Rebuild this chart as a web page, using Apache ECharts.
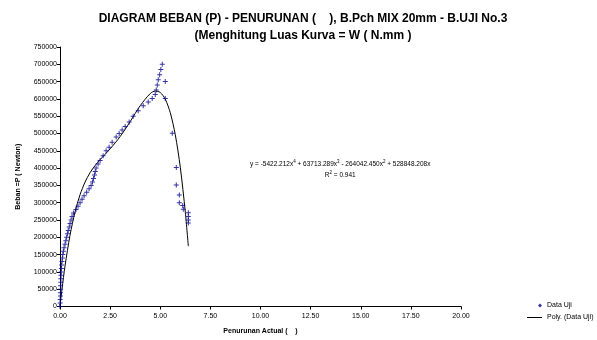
<!DOCTYPE html>
<html><head><meta charset="utf-8">
<script src="https://cdn.jsdelivr.net/npm/echarts@6/dist/echarts.min.js"></script>
<style>html,body{margin:0;padding:0;background:#fff}#c{width:597px;height:340px}</style>
</head><body><div id="c"></div>
<script>
var titleLines = ['DIAGRAM BEBAN (P) - PENURUNAN (    ), B.Pch MIX 20mm - B.UJI No.3', '(Menghitung Luas Kurva = W ( N.mm )'];
var xAxisName = 'Penurunan Actual (    )';
var yAxisName = 'Beban =P ( Newton)';
var seriesNames = ['Data Uji', 'Poly. (Data Uji)'];

// Data Uji: [penurunan, beban]
var dataUji = [
  [0,0],[0.01,10000],[0.01,20000],[0.02,30000],[0.02,40000],[0.03,50000],[0.03,60000],[0.04,70000],
  [0.04,80000],[0.05,90000],[0.06,100000],[0.07,110000],[0.08,120000],[0.1,130000],[0.12,140000],
  [0.14,150000],[0.17,160000],[0.2,170000],[0.25,180000],[0.29,190000],[0.33,200000],[0.37,210000],
  [0.41,220000],[0.46,230000],[0.5,240000],[0.55,250000],[0.6,260000],[0.67,270000],[0.8,280000],
  [0.9,290000],[1.0,300000],[1.1,310000],[1.2,320000],[1.33,330000],[1.45,340000],[1.55,350000],
  [1.62,360000],[1.67,370000],[1.72,380000],[1.76,390000],[1.8,400000],[1.9,412000],[2.0,422000],
  [2.15,436000],[2.3,450000],[2.45,460000],[2.6,475000],[2.8,490000],[2.95,500000],[3.1,510000],
  [3.25,520000],[3.45,533000],[3.65,550000],[3.9,566000],[4.15,580000],[4.4,591000],[4.6,601000],
  [4.75,613000],[4.8,626000],[4.85,640000],[4.9,655000],[4.97,670000],[5.03,685000],[5.1,700000],
  [5.25,650000],[5.25,601000],[5.6,501000],[5.8,402000],[5.8,351000],[5.95,322000],[5.95,300000],
  [6.12,292000],[6.15,281000],[6.4,271000],[6.4,260000],[6.4,250000],[6.4,241000]
];

// Poly. trendline points
var polyX = [0, 0.1, 0.25, 0.5, 0.75, 1.0, 1.25, 1.5, 1.75, 2.0, 2.5, 3.0, 3.5, 4.0, 4.5, 4.75, 5.0, 5.25, 5.5, 5.75, 6.0, 6.25, 6.4];
var polyY = [0, 50300, 116700, 206000, 273300, 323100, 359700, 386800, 407500, 424500, 455600, 491200, 534500, 580300, 615400, 622600, 618500, 599100, 560000, 496300, 402400, 272500, 174400];

var xTicks = {min: 0, max: 20, interval: 2.5};
var yTicks = {min: 0, max: 750000, interval: 50000};

var eqText = 'y = -5422.212x{s|4} + 63713.289x{s|3} - 264042.450x{s|2} + 528848.208x\nR{s|2} = 0.941';

var polyData = polyX.map(function(x, i){ return [x, polyY[i]]; });

var chart = echarts.init(document.getElementById('c'));
var font = 'Liberation Sans, Arial, sans-serif';
chart.setOption({
  animation: false,
  textStyle: {fontFamily: font},
  title: {
    text: titleLines.join('\n'),
    left: 298, textAlign: 'center', top: 5,
    textStyle: {fontSize: 12, fontWeight: 'bold', color: '#000', lineHeight: 17, fontFamily: font}
  },
  grid: {left: 60, right: 136, top: 47, bottom: 33.5, containLabel: false},
  xAxis: {
    type: 'value', min: xTicks.min, max: xTicks.max, interval: xTicks.interval,
    name: xAxisName, nameLocation: 'middle', nameGap: 21,
    nameTextStyle: {fontSize: 7, fontWeight: 'bold', color: '#000'},
    axisLine: {lineStyle: {color: '#000', width: 1}},
    axisTick: {show: true, length: 3, lineStyle: {color: '#000'}},
    axisLabel: {fontSize: 7, color: '#000', margin: 6, formatter: function(v){ return v.toFixed(2); }},
    splitLine: {show: false}
  },
  yAxis: {
    type: 'value', min: yTicks.min, max: yTicks.max, interval: yTicks.interval,
    name: yAxisName, nameLocation: 'middle', nameGap: 38, nameRotate: 90,
    nameTextStyle: {fontSize: 7, fontWeight: 'bold', color: '#000'},
    axisLine: {show: true, lineStyle: {color: '#000', width: 1}},
    axisTick: {show: true, length: 3, lineStyle: {color: '#000'}},
    axisLabel: {fontSize: 7, color: '#000', margin: 3, formatter: function(v){ return String(v); }},
    splitLine: {show: false}
  },
  legend: [
    {data: [{name: seriesNames[0], icon: 'diamond'}], orient: 'vertical', left: 533, top: 297,
     itemWidth: 4, itemHeight: 4, textStyle: {fontSize: 7, color: '#000'}},
    {data: [{name: seriesNames[1], icon: 'rect'}], orient: 'vertical', left: 522, top: 309,
     itemWidth: 15, itemHeight: 1, textStyle: {fontSize: 7, color: '#000'}}
  ],
  graphic: [{
    type: 'text', left: 250, top: 159,
    style: {
      text: eqText, align: 'center', textAlign: 'center',
      font: '6.5px ' + font, fill: '#000', lineHeight: 11,
      rich: {s: {fontSize: 4.5, verticalAlign: 'top', padding: [0,0,4,0]}}
    }
  }],
  series: [
    {
      name: seriesNames[0], type: 'scatter', data: dataUji,
      symbol: 'path://M2,0H3V2H5V3H3V5H2V3H0V2H2Z', symbolSize: 5,
      itemStyle: {color: '#00008b'}, z: 3
    },
    {
      name: seriesNames[1], type: 'line', data: polyData, smooth: 0.3,
      symbol: 'none', showSymbol: false,
      lineStyle: {color: '#000', width: 1}, itemStyle: {color: '#000'}, z: 2
    }
  ]
});
</script></body></html>
